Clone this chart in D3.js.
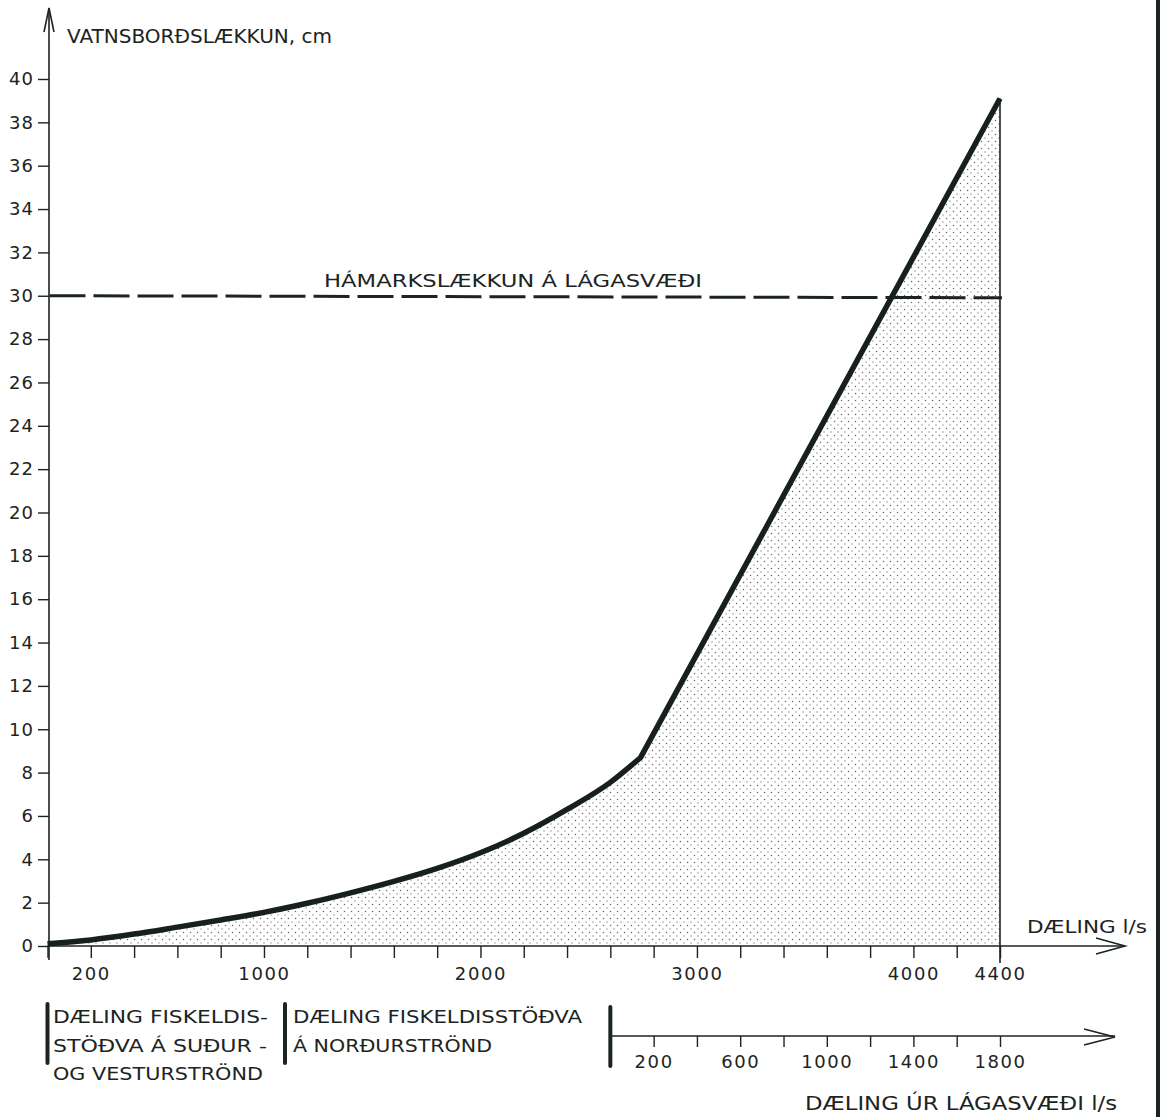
<!DOCTYPE html>
<html>
<head>
<meta charset="utf-8">
<script src="https://cdn.jsdelivr.net/npm/d3@7"></script>
<style>
	body { margin: 0; background: #fff; }
	svg { display: block; }
	text { font-family: 'DejaVu Sans', sans-serif; fill: #1c2422; }
</style>
</head>
<body>
<script>
// Flow (l/s) and water level drop (cm)
const flow = [ 0, 200, 400, 600, 800, 1000, 1200, 1400, 1600, 1800, 2000, 2200, 2400, 2600, 2740, 4400 ];
const drop = [ 0.1, 0.28, 0.55, 0.87, 1.2, 1.55, 1.97, 2.45, 2.98, 3.58, 4.3, 5.2, 6.3, 7.55, 8.7, 39.1 ];
const kinkIndex = 14;

const maxDrop = 30;

const yTicks = [ 0, 2, 4, 6, 8, 10, 12, 14, 16, 18, 20, 22, 24, 26, 28, 30, 32, 34, 36, 38, 40 ];
const xTicks = [ 0, 200, 400, 600, 800, 1000, 1200, 1400, 1600, 1800, 2000, 2200, 2400, 2600, 2800, 3000,
	3200, 3400, 3600, 3800, 4000, 4200, 4400 ];
const xTickLabels = [ 200, 1000, 2000, 3000, 4000, 4400 ];

const lowerOffset = 2600;
const lowerTicks = [ 200, 400, 600, 800, 1000, 1200, 1400, 1600, 1800 ];
const lowerTickLabels = [ 200, 600, 1000, 1400, 1800 ];

const yTitle = 'VATNSBORÐSLÆKKUN, cm';
const xTitle = 'DÆLING l/s';
const lowerTitle = 'DÆLING ÚR LÁGASVÆÐI l/s';
const limitLabel = 'HÁMARKSLÆKKUN Á LÁGASVÆÐI';
const southLines = [ 'DÆLING FISKELDIS-', 'STÖÐVA Á SUÐUR -', 'OG VESTURSTRÖND' ];
const northLines = [ 'DÆLING FISKELDISSTÖÐVA', 'Á NORÐURSTRÖND' ];

const ink = '#1c2422';

const svg = d3.select('body').append('svg').attr('width', 1162).attr('height', 1117);
svg.append('rect').attr('width', 1162).attr('height', 1117).attr('fill', '#fff');

const x = d3.scaleLinear().domain([ 0, 4400 ]).range([ 47.5, 1000 ]);
const y = d3.scaleLinear().domain([ 0, 40 ]).range([ 946, 79 ]);

// stipple pattern for the area
const pattern = svg
	.append('defs')
	.append('pattern')
	.attr('id', 'stipple')
	.attr('patternUnits', 'userSpaceOnUse')
	.attr('width', 7)
	.attr('height', 7);
pattern.append('circle').attr('cx', 1.5).attr('cy', 1.5).attr('r', 0.75).attr('fill', '#6e6464');
pattern.append('circle').attr('cx', 5).attr('cy', 5).attr('r', 0.7).attr('fill', '#8a7e7e');

const pts = flow.map((f, i) => [ f, drop[i] ]);
const smooth = d3.line().x((d) => x(d[0])).y((d) => y(d[1])).curve(d3.curveMonotoneX);
const last = pts[pts.length - 1];

const lineD = smooth(pts.slice(0, kinkIndex + 1)) + 'L' + x(last[0]) + ',' + y(last[1]);
const areaD = lineD + 'L' + x(last[0]) + ',' + y(0) + 'L' + x(0) + ',' + y(0) + 'Z';

svg.append('path').attr('d', areaD).attr('fill', 'url(#stipple)');

// vertical line at max flow
svg
	.append('line')
	.attr('x1', x(last[0]))
	.attr('x2', x(last[0]))
	.attr('y1', y(last[1]))
	.attr('y2', y(0) + 17)
	.attr('stroke', ink)
	.attr('stroke-width', 1.6);

// y axis
const yAxis = svg
	.append('g')
	.attr('transform', `translate(${x(0) + 1.5},0)`)
	.call(d3.axisLeft(y).tickValues(yTicks).tickSize(11).tickPadding(4).tickSizeOuter(0));
yAxis.select('.domain').remove();
yAxis.selectAll('line').attr('stroke', ink).attr('stroke-width', 1.4);
yAxis.selectAll('text').attr('font-size', 18).attr('letter-spacing', 1).style('fill', ink);

svg
	.append('line')
	.attr('x1', x(0) + 1.5)
	.attr('x2', x(0) + 1.5)
	.attr('y1', y(0) + 14)
	.attr('y2', 8)
	.attr('stroke', ink)
	.attr('stroke-width', 1.6);
svg
	.append('path')
	.attr('d', `M${x(0) - 3.5},32 L${x(0) + 1.5},8 L${x(0) + 6.5},32`)
	.attr('fill', 'none')
	.attr('stroke', ink)
	.attr('stroke-width', 1.6);

svg
	.append('text')
	.attr('x', 67)
	.attr('y', 43)
	.attr('font-size', 19)
	.attr('textLength', 265)
	.attr('lengthAdjust', 'spacingAndGlyphs')
	.text(yTitle);

// x axis
const xAxis = svg
	.append('g')
	.attr('transform', `translate(0,${y(0)})`)
	.call(
		d3
			.axisBottom(x)
			.tickValues(xTicks)
			.tickSize(12)
			.tickPadding(9)
			.tickSizeOuter(0)
			.tickFormat((d) => (xTickLabels.includes(d) ? d : ''))
	);
xAxis.select('.domain').remove();
xAxis.selectAll('line').attr('stroke', ink).attr('stroke-width', 1.4);
xAxis.selectAll('text').attr('font-size', 18).attr('letter-spacing', 1.6).style('fill', ink);

svg
	.append('line')
	.attr('x1', x(0))
	.attr('x2', 1125)
	.attr('y1', y(0))
	.attr('y2', y(0))
	.attr('stroke', ink)
	.attr('stroke-width', 1.6);
svg
	.append('path')
	.attr('d', `M1096,${y(0) - 8} L1125,${y(0)} L1096,${y(0) + 8}`)
	.attr('fill', 'none')
	.attr('stroke', ink)
	.attr('stroke-width', 1.6);

svg
	.append('text')
	.attr('x', 1027)
	.attr('y', 933)
	.attr('font-size', 18)
	.attr('textLength', 120)
	.attr('lengthAdjust', 'spacingAndGlyphs')
	.text(xTitle);

// max drop dashed line
svg
	.append('line')
	.attr('x1', x(0) + 2)
	.attr('x2', x(4400) + 2)
	.attr('y1', y(maxDrop))
	.attr('y2', y(maxDrop) + 2)
	.attr('stroke', ink)
	.attr('stroke-width', 3)
	.attr('stroke-dasharray', '36 8');

svg
	.append('text')
	.attr('x', 324)
	.attr('y', 287)
	.attr('font-size', 18)
	.attr('textLength', 378)
	.attr('lengthAdjust', 'spacingAndGlyphs')
	.text(limitLabel);

// the curve
svg
	.append('path')
	.attr('d', lineD)
	.attr('fill', 'none')
	.attr('stroke', '#17201d')
	.attr('stroke-width', 5.5)
	.attr('stroke-linejoin', 'round');

// lower block: pumping from the stations
const bars = [ x(0), 285, x(lowerOffset) ];
svg
	.selectAll('.bar')
	.data(bars)
	.enter()
	.append('line')
	.attr('x1', (d) => d)
	.attr('x2', (d) => d)
	.attr('y1', (d, i) => (i === 2 ? 1007 : 1004))
	.attr('y2', (d, i) => (i === 2 ? 1066 : 1063))
	.attr('stroke', ink)
	.attr('stroke-width', 4)
	.attr('stroke-linecap', 'round');

svg
	.append('g')
	.selectAll('text')
	.data(southLines)
	.enter()
	.append('text')
	.attr('x', 53)
	.attr('y', (d, i) => 1023 + i * 28.5)
	.attr('font-size', 18)
	.attr('textLength', (d, i) => [ 215, 214, 210 ][i])
	.attr('lengthAdjust', 'spacingAndGlyphs')
	.text((d) => d);

svg
	.append('g')
	.selectAll('text')
	.data(northLines)
	.enter()
	.append('text')
	.attr('x', 293)
	.attr('y', (d, i) => 1023 + i * 28.5)
	.attr('font-size', 18)
	.attr('textLength', (d, i) => [ 289, 199 ][i])
	.attr('lengthAdjust', 'spacingAndGlyphs')
	.text((d) => d);

// lower axis, flow from the low area
const xl = d3.scaleLinear().domain([ 0, 4400 - lowerOffset ]).range([ x(lowerOffset), x(4400) ]);
const lowerAxisY = 1036;
const lowerAxis = svg
	.append('g')
	.attr('transform', `translate(0,${lowerAxisY})`)
	.call(
		d3
			.axisBottom(xl)
			.tickValues(lowerTicks)
			.tickSize(11)
			.tickPadding(8)
			.tickSizeOuter(0)
			.tickFormat((d) => (lowerTickLabels.includes(d) ? d : ''))
	);
lowerAxis.select('.domain').remove();
lowerAxis.selectAll('line').attr('stroke', ink).attr('stroke-width', 1.4);
lowerAxis.selectAll('text').attr('font-size', 18).attr('letter-spacing', 1.6).style('fill', ink);

svg
	.append('line')
	.attr('x1', xl(0))
	.attr('x2', 1115)
	.attr('y1', lowerAxisY)
	.attr('y2', lowerAxisY)
	.attr('stroke', ink)
	.attr('stroke-width', 1.6);
svg
	.append('path')
	.attr('d', `M1084,${lowerAxisY - 7} L1115,${lowerAxisY + 1} L1084,${lowerAxisY + 9}`)
	.attr('fill', 'none')
	.attr('stroke', ink)
	.attr('stroke-width', 1.6);

svg
	.append('text')
	.attr('x', 805)
	.attr('y', 1110)
	.attr('font-size', 19)
	.attr('textLength', 312)
	.attr('lengthAdjust', 'spacingAndGlyphs')
	.text(lowerTitle);

// right frame edge
svg
	.append('line')
	.attr('x1', 1158)
	.attr('x2', 1158)
	.attr('y1', 0)
	.attr('y2', 1117)
	.attr('stroke', ink)
	.attr('stroke-width', 4);
</script>
</body>
</html>
